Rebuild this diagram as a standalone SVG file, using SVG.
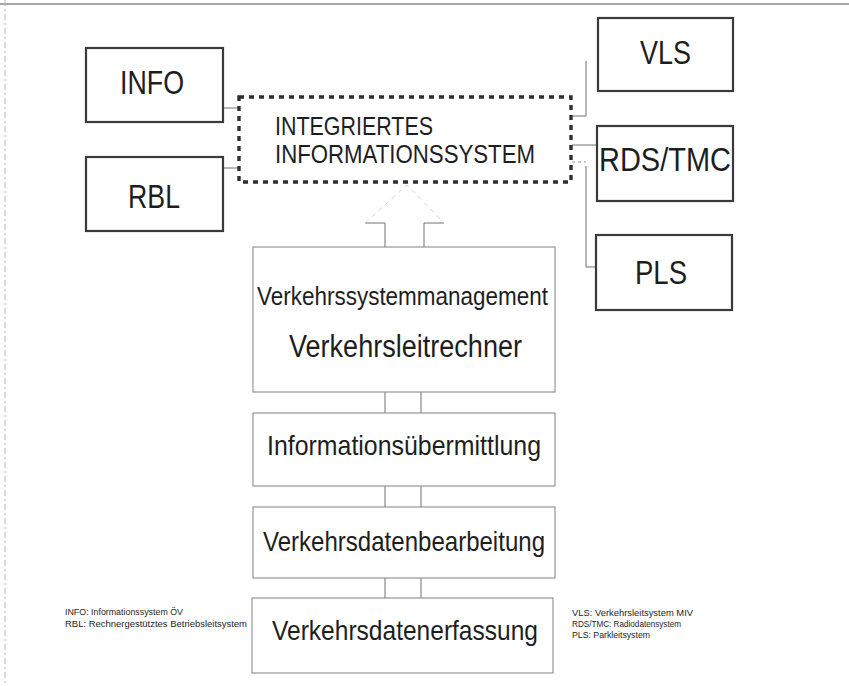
<svg xmlns="http://www.w3.org/2000/svg" width="849" height="686" viewBox="0 0 849 686">
  <style>
    .bg { fill: #ffffff; }
    .frame-top { stroke: #8a8a8a; stroke-width: 1.5; fill: none; }
    .frame-left { stroke: #b4b4b4; stroke-width: 1; stroke-dasharray: 6 3 2 3; fill: none; }
    .ext { fill: #ffffff; stroke: #3a3a3a; stroke-width: 2.2; }
    .core { fill: #ffffff; stroke: #8c8c8c; stroke-width: 1.1; }
    .hub { fill: none; stroke: #2e2e2e; stroke-width: 3.4; stroke-dasharray: 5 5; }
    .link { fill: none; stroke: #707070; stroke-width: 1; }
    .faint { fill: none; stroke: #d6d6d6; stroke-width: 1; stroke-dasharray: 5 4; }
    .faint-dash { fill: none; stroke: #9a9a9a; stroke-width: 1; stroke-dasharray: 3 3; }
    text { font-family: "Liberation Sans", Arial, sans-serif; fill: #1e1e1e; }
    .big { font-size: 33px; }
    .hubtxt { font-size: 26px; }
    .mid { font-size: 28px; }
    .legend { font-size: 9.5px; }
  </style>

  <rect class="bg" x="0" y="0" width="849" height="686"/>

  <!-- page frame -->
  <line class="frame-top" x1="0" y1="4" x2="849" y2="4"/>
  <line class="frame-left" x1="5" y1="0" x2="5" y2="686"/>

  <!-- connectors -->
  <g id="connectors">
    <!-- left systems to hub -->
    <line class="link" x1="223" y1="108" x2="239" y2="108"/>
    <line class="link" x1="223" y1="168" x2="239" y2="168"/>
    <!-- right systems to hub -->
    <polyline class="link" points="572,116 586,116 586,61"/>
    <line class="link" x1="572" y1="145" x2="597" y2="145"/>
    <polyline class="faint-dash" points="572,162 586,162"/>
    <polyline class="link" points="586,166 586,267 597,267"/>
    <!-- hollow arrow from management box up to hub -->
    <polyline class="link" points="385,247 385,223 365,223"/>
    <polyline class="link" points="424,247 424,223 444,223"/>
    <polyline class="faint" points="365,223 407,185 444,223"/>
    <!-- stack links -->
    <line class="link" x1="385" y1="392" x2="385" y2="413"/>
    <line class="link" x1="421" y1="392" x2="421" y2="413"/>
    <line class="link" x1="385" y1="486" x2="385" y2="507"/>
    <line class="link" x1="421" y1="486" x2="421" y2="507"/>
    <line class="link" x1="385" y1="578" x2="385" y2="598"/>
    <line class="link" x1="421" y1="578" x2="421" y2="598"/>
  </g>

  <!-- external systems, left -->
  <g id="info">
    <rect class="ext" x="86" y="48" width="137" height="74"/>
    <text class="big" x="120" y="94" textLength="64" lengthAdjust="spacingAndGlyphs">INFO</text>
  </g>
  <g id="rbl">
    <rect class="ext" x="86" y="157" width="137" height="74"/>
    <text class="big" x="128" y="208" textLength="52" lengthAdjust="spacingAndGlyphs">RBL</text>
  </g>

  <!-- integrated information system -->
  <g id="hub">
    <rect class="hub" x="239" y="97" width="332" height="85"/>
    <text class="hubtxt" x="275" y="135" textLength="158" lengthAdjust="spacingAndGlyphs">INTEGRIERTES</text>
    <text class="hubtxt" x="275" y="163" textLength="260" lengthAdjust="spacingAndGlyphs">INFORMATIONSSYSTEM</text>
  </g>

  <!-- external systems, right -->
  <g id="vls">
    <rect class="ext" x="598" y="18" width="135" height="73"/>
    <text class="big" x="640" y="64" textLength="51" lengthAdjust="spacingAndGlyphs">VLS</text>
  </g>
  <g id="rds-tmc">
    <rect class="ext" x="597" y="126" width="136" height="75"/>
    <text class="big" x="599" y="171" textLength="132" lengthAdjust="spacingAndGlyphs">RDS/TMC</text>
  </g>
  <g id="pls">
    <rect class="ext" x="596" y="235" width="136" height="75"/>
    <text class="big" x="635" y="284" textLength="52" lengthAdjust="spacingAndGlyphs">PLS</text>
  </g>

  <!-- layered traffic management stack -->
  <g id="management">
    <rect class="core" x="253" y="247" width="302" height="145"/>
    <text x="257" y="305" font-size="25" textLength="291" lengthAdjust="spacingAndGlyphs">Verkehrssystemmanagement</text>
    <text x="289" y="357" font-size="31" textLength="233" lengthAdjust="spacingAndGlyphs">Verkehrsleitrechner</text>
  </g>
  <g id="transmission">
    <rect class="core" x="253" y="413" width="302" height="73"/>
    <text class="mid" x="267" y="455" textLength="274" lengthAdjust="spacingAndGlyphs">Informationsübermittlung</text>
  </g>
  <g id="processing">
    <rect class="core" x="253" y="507" width="302" height="71"/>
    <text class="mid" x="263" y="551" textLength="282" lengthAdjust="spacingAndGlyphs">Verkehrsdatenbearbeitung</text>
  </g>
  <g id="acquisition">
    <rect class="core" x="252" y="598" width="301" height="75"/>
    <text class="mid" x="272" y="640" textLength="266" lengthAdjust="spacingAndGlyphs">Verkehrsdatenerfassung</text>
  </g>

  <!-- abbreviations -->
  <g id="legend-left">
    <text class="legend" x="65" y="615" textLength="118" lengthAdjust="spacingAndGlyphs">INFO: Informationssystem ÖV</text>
    <text class="legend" x="65" y="627" textLength="182" lengthAdjust="spacingAndGlyphs">RBL: Rechnergestütztes Betriebsleitsystem</text>
  </g>
  <g id="legend-right">
    <text class="legend" x="572" y="616" textLength="121" lengthAdjust="spacingAndGlyphs">VLS: Verkehrsleitsystem MIV</text>
    <text class="legend" x="572" y="627" textLength="109" lengthAdjust="spacingAndGlyphs">RDS/TMC: Radiodatensystem</text>
    <text class="legend" x="572" y="638" textLength="78" lengthAdjust="spacingAndGlyphs">PLS: Parkleitsystem</text>
  </g>
</svg>
